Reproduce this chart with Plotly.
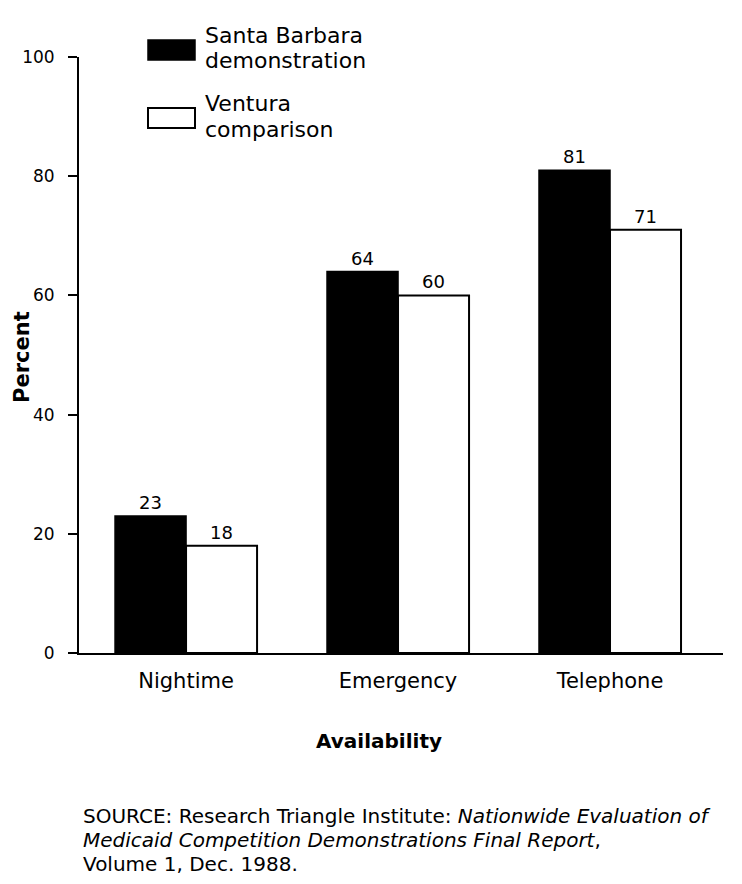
import plotly.graph_objects as go

categories = ["Nightime", "Emergency", "Telephone"]
santa_barbara = [23, 64, 81]
ventura = [18, 60, 71]
series_names = ["Santa Barbara demonstration", "Ventura comparison"]
y_ticks = [0, 20, 40, 60, 80, 100]

FONT = "DejaVu Sans, Verdana, sans-serif"

fig = go.Figure()
fig.add_trace(go.Bar(
    x=categories, y=santa_barbara, name=series_names[0],
    marker=dict(color="black", line=dict(color="black", width=1.5)),
    text=santa_barbara, textposition="outside",
    textfont=dict(size=18, color="black", family=FONT),
    cliponaxis=False,
))
fig.add_trace(go.Bar(
    x=categories, y=ventura, name=series_names[1],
    marker=dict(color="white", line=dict(color="black", width=2)),
    text=ventura, textposition="outside",
    textfont=dict(size=18, color="black", family=FONT),
    cliponaxis=False,
))

# page body has an 8px margin; design in screen coordinates and shift
OFF = 8
W, H = 742 - 2 * OFF, 884 - 2 * OFF
L = 79 - OFF
T = 57 - OFF
R = W - (723 - OFF)
B = H - (653 - OFF)
pw, ph = W - L - R, H - T - B

def px(x):
    return (x - OFF - L) / pw

def py(y):
    return (H - B - (y - OFF)) / ph

shapes = [
    dict(type="rect", xref="paper", yref="paper",
         x0=px(148), x1=px(195), y0=py(60), y1=py(40),
         fillcolor="black", line=dict(color="black", width=1.5)),
    dict(type="rect", xref="paper", yref="paper",
         x0=px(148), x1=px(195), y0=py(128), y1=py(108),
         fillcolor="white", line=dict(color="black", width=2)),
]

annotations = []
leg_lines = [("Santa Barbara", 35), ("demonstration", 61), ("Ventura", 104), ("comparison", 129)]
for txt, yy in leg_lines:
    annotations.append(dict(text=txt, xref="paper", yref="paper", x=px(203), y=py(yy),
                            xanchor="left", yanchor="middle", showarrow=False,
                            font=dict(size=22, color="black", family=FONT)))
annotations.append(dict(text="<b>Availability</b>", xref="paper", yref="paper",
                        x=px(379), y=py(741), xanchor="center", yanchor="middle",
                        showarrow=False, font=dict(size=20, color="black", family=FONT)))
annotations.append(dict(text="<b>Percent</b>", xref="paper", yref="paper",
                        x=px(OFF + 1), y=py(357), xanchor="left", yanchor="middle",
                        textangle=-90, showarrow=False, borderpad=0,
                        font=dict(size=21, color="black", family=FONT)))
src_lines = ["SOURCE: Research Triangle Institute: <i>Nationwide Evaluation of</i>",
             "<i>Medicaid Competition Demonstrations Final Report</i>,",
             "Volume 1, Dec. 1988."]
for i, s in enumerate(src_lines):
    annotations.append(dict(text=s, xref="paper", yref="paper", x=px(81), y=py(816 + 24 * i),
                            xanchor="left", yanchor="middle", showarrow=False,
                            font=dict(size=20, color="black", family=FONT)))

fig.update_layout(
    width=W, height=H,
    margin=dict(l=L, r=R, t=T, b=B, pad=0, autoexpand=False),
    paper_bgcolor="white", plot_bgcolor="white",
    barmode="group", bargap=0.33, bargroupgap=0,
    showlegend=False,
    font=dict(family=FONT, color="black"),
    shapes=shapes, annotations=annotations,
    xaxis=dict(range=[-0.505, 2.533], showline=True, linecolor="black", linewidth=2,
               ticks="", showgrid=False, zeroline=False, automargin=False,
               tickfont=dict(size=21, color="black", family=FONT),
               ticklabelstandoff=8),
    yaxis=dict(range=[0, 100], tickvals=y_ticks, showline=True, linecolor="black",
               linewidth=2, ticks="outside", ticklen=9, tickwidth=2, tickcolor="black",
               showgrid=False, zeroline=False, automargin=False,
               tickfont=dict(size=17, color="black", family=FONT),
               ticklabelstandoff=10),
)

fig.write_html("out.html")
